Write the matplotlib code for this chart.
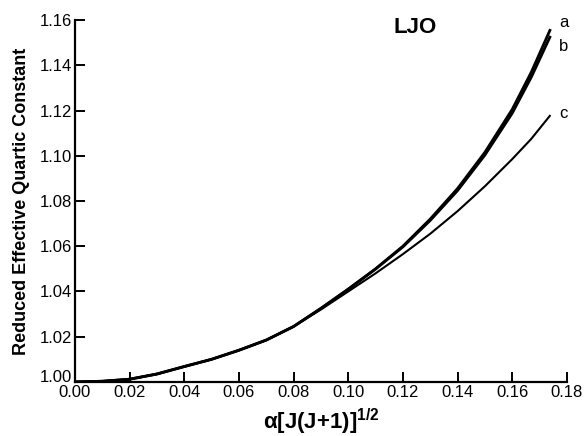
import matplotlib
matplotlib.use('Agg')
import matplotlib.pyplot as plt
import matplotlib.transforms as mtransforms
import numpy as np

plt.rcParams['font.family'] = ['Liberation Sans', 'DejaVu Sans']
plt.rcParams['mathtext.fontset'] = 'custom'
plt.rcParams['mathtext.rm'] = 'Liberation Sans'
plt.rcParams['mathtext.bf'] = 'Liberation Sans:bold'

# alpha[J(J+1)]^1/2 값
x = [0.00, 0.01, 0.02, 0.03, 0.04, 0.05, 0.06, 0.07, 0.08, 0.09,
     0.10, 0.11, 0.12, 0.13, 0.14, 0.15, 0.16, 0.167, 0.174]
curve_a = [1.000, 1.0003, 1.0012, 1.0035, 1.0068, 1.0100, 1.0140, 1.0185, 1.0245, 1.0325,
           1.0410, 1.0500, 1.0600, 1.0720, 1.0855, 1.1015, 1.1205, 1.1370, 1.1560]
curve_b = [1.000, 1.0003, 1.0012, 1.0035, 1.0068, 1.0100, 1.0140, 1.0185, 1.0245, 1.0325,
           1.0410, 1.0499, 1.0597, 1.0714, 1.0846, 1.1003, 1.1188, 1.1348, 1.1530]
curve_c = [1.000, 1.0003, 1.0012, 1.0035, 1.0068, 1.0100, 1.0140, 1.0185, 1.0245, 1.0320,
           1.0400, 1.0480, 1.0565, 1.0655, 1.0755, 1.0865, 1.0985, 1.1075, 1.1180]

xticks = [0.00, 0.02, 0.04, 0.06, 0.08, 0.10, 0.12, 0.14, 0.16, 0.18]
yticks = [1.00, 1.02, 1.04, 1.06, 1.08, 1.10, 1.12, 1.14, 1.16]

fig = plt.figure(figsize=(5.85, 4.36), dpi=100)
ax = fig.add_axes([0.128, 0.124, 0.841, 0.830])

ax.plot(x, curve_a, color='black', lw=2.0, solid_capstyle='butt')
ax.plot(x, curve_b, color='black', lw=2.0, solid_capstyle='butt')
ax.plot(x, curve_c, color='black', lw=1.5, solid_capstyle='butt')

ax.set_xlim(0, 0.18)
ax.set_ylim(1.0, 1.16)
ax.set_xticks(xticks)
ax.set_yticks(yticks)
ax.set_xticklabels(['%.2f' % v for v in xticks])
ax.set_yticklabels(['%.2f' % v for v in yticks])

for s in ['top', 'right']:
    ax.spines[s].set_visible(False)
for s in ['left', 'bottom']:
    ax.spines[s].set_linewidth(1.6)
ax.tick_params(direction='in', length=7, width=1.4, labelsize=12, pad=2)

# 1.00 라벨이 0.00 라벨과 겹치지 않도록 살짝 위로
lab0 = ax.get_yticklabels()[0]
lab0.set_transform(lab0.get_transform() + mtransforms.ScaledTranslation(0, 4 / 72, fig.dpi_scale_trans))

ax.set_ylabel('Reduced Effective Quartic Constant', fontsize=13, fontweight='bold', labelpad=7)
ax.set_xlabel(r'α[J(J+1)]$^{\mathbf{1/2}}$', fontsize=16, fontweight='bold', labelpad=5)

ax.text(0.1245, 1.1565, 'LJO', fontsize=16, fontweight='bold', ha='center', va='center')
ax.text(0.1772, 1.159, 'a', fontsize=12, ha='left', va='center')
ax.text(0.1772, 1.1485, 'b', fontsize=12, ha='left', va='center')
ax.text(0.1772, 1.1185, 'c', fontsize=12, ha='left', va='center')

fig.savefig('out.png', dpi=100)
